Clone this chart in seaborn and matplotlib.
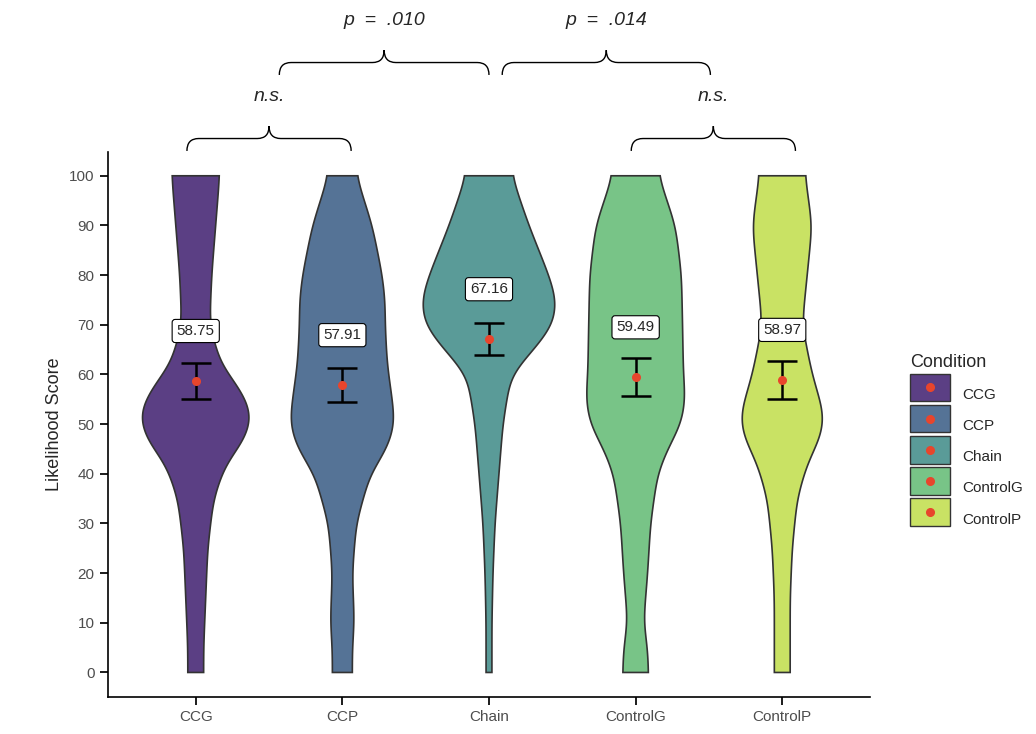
import numpy as np
import matplotlib
matplotlib.use("Agg")
import matplotlib.pyplot as plt
from matplotlib.path import Path
from matplotlib.patches import PathPatch, Rectangle
from matplotlib.lines import Line2D
import seaborn as sns

# ── Data ─────────────────────────────────────────────────────────────────────
conditions = ["CCG", "CCP", "Chain", "ControlG", "ControlP"]
colors = ["#5b3f84", "#557396", "#5a9b98", "#78c487", "#c9e264"]
means = [58.75, 57.91, 67.16, 59.49, 58.97]
ci_low = [55.1, 54.4, 64.0, 55.7, 55.1]
ci_high = [62.4, 61.4, 70.3, 63.3, 62.8]

prof_ccg_y = [0, 5, 15, 25, 35, 42, 47, 52, 57, 62, 70, 80, 90, 100]
prof_ccg_w = [0.054, 0.054, 0.068, 0.082, 0.122, 0.204, 0.34, 0.388, 0.306, 0.17, 0.095, 0.109, 0.136, 0.163]
prof_ccp_y = [0, 5, 10, 20, 30, 40, 45, 50, 55, 62, 70, 75, 80, 90, 100]
prof_ccp_w = [0.068, 0.068, 0.082, 0.068, 0.095, 0.19, 0.306, 0.36, 0.34, 0.306, 0.292, 0.292, 0.272, 0.204, 0.095]
prof_chain_y = [0, 10, 20, 30, 40, 50, 60, 65, 70, 75, 80, 90, 100]
prof_chain_w = [0.02, 0.02, 0.027, 0.041, 0.068, 0.095, 0.15, 0.306, 0.442, 0.462, 0.408, 0.272, 0.156]
prof_cg_y = [0, 5, 10, 20, 30, 40, 45, 50, 55, 60, 70, 80, 90, 100]
prof_cg_w = [0.088, 0.082, 0.054, 0.082, 0.102, 0.15, 0.218, 0.313, 0.34, 0.326, 0.32, 0.313, 0.272, 0.156]
prof_cp_y = [0, 5, 15, 25, 35, 42, 48, 52, 60, 70, 80, 90, 100]
prof_cp_w = [0.054, 0.054, 0.054, 0.068, 0.102, 0.17, 0.272, 0.286, 0.204, 0.136, 0.17, 0.204, 0.156]
profiles = [(prof_ccg_y, prof_ccg_w), (prof_ccp_y, prof_ccp_w), (prof_chain_y, prof_chain_w),
            (prof_cg_y, prof_cg_w), (prof_cp_y, prof_cp_w)]

# significance brackets: (x start, x end, height, label)
brackets = [(-0.06, 1.06, 107.5, "n.s."), (0.57, 2.0, 122.8, "p  =  .010"),
            (2.09, 3.51, 122.8, "p  =  .014"), (2.97, 4.09, 107.5, "n.s.")]


def smooth_profile(py, pw, n=400, sigma=10):
    yy = np.linspace(0, 100, n)
    ww = np.interp(yy, py, pw)
    k = np.exp(-0.5 * (np.arange(-3 * sigma, 3 * sigma + 1) / sigma) ** 2)
    k /= k.sum()
    padded = np.pad(ww, 3 * sigma, mode="edge")
    return yy, np.convolve(padded, k, mode="valid")


class DotPatchHandler:
    def __init__(self, color):
        self.color = color

    def legend_artist(self, legend, orig_handle, fontsize, handlebox):
        x0, y0 = handlebox.xdescent, handlebox.ydescent
        w, h = handlebox.width, handlebox.height
        rect = Rectangle((x0, y0 - 4), w, h + 8, fc=self.color, ec="#333333", lw=1.0,
                         transform=handlebox.get_transform())
        dot = Line2D([x0 + w / 2], [y0 + h / 2], marker="o", ls="", color="#e8452c", ms=5.5,
                     transform=handlebox.get_transform())
        handlebox.add_artist(rect)
        handlebox.add_artist(dot)
        return rect


# ── Plot ─────────────────────────────────────────────────────────────────────
sns.set_theme(style="ticks")
plt.rcParams["font.family"] = ["Liberation Sans", "DejaVu Sans"]

fig = plt.figure(figsize=(10.36, 7.34), dpi=100)
ax = fig.add_axes([0.104, 0.050, 0.736, 0.743])

for i, (py, pw) in enumerate(profiles):
    yy, ww = smooth_profile(py, pw)
    xs = np.concatenate([i - ww, (i + ww)[::-1]])
    ys = np.concatenate([yy, yy[::-1]])
    ax.fill(xs, ys, fc=colors[i], ec="#333333", lw=1.2, zorder=2)
    ax.errorbar(i, means[i], yerr=[[means[i] - ci_low[i]], [ci_high[i] - means[i]]],
                fmt="none", ecolor="black", elinewidth=1.8, capsize=11, capthick=1.8, zorder=4)
    ax.plot(i, means[i], "o", color="#e8452c", ms=5.5, zorder=5)
    ax.text(i, means[i] + 10, f"{means[i]:.2f}", ha="center", va="center", fontsize=11, zorder=6,
            bbox=dict(boxstyle="round,pad=0.3,rounding_size=0.2", fc="white", ec="black", lw=0.8))


def brace(x0, x1, y, label):
    xm = (x0 + x1) / 2
    h = 2.5
    d = 0.08
    verts = [(x0, y - h), (x0, y), (x0 + d, y), (x0 + d, y),
             (xm - d, y), (xm, y), (xm, y + h), (xm, y), (xm + d, y),
             (x1 - d, y), (x1, y), (x1, y - h)]
    codes = [Path.MOVETO, Path.CURVE3, Path.CURVE3, Path.LINETO,
             Path.LINETO, Path.CURVE3, Path.CURVE3, Path.CURVE3, Path.CURVE3,
             Path.LINETO, Path.CURVE3, Path.CURVE3]
    ax.add_patch(PathPatch(Path(verts, codes), fc="none", ec="black", lw=1.0, clip_on=False))
    ax.text(xm, y + 8.5, label, ha="center", va="center", fontsize=14, style="italic")


for b in brackets:
    brace(*b)

ax.set_xlim(-0.6, 4.6)
ax.set_ylim(-5, 104.8)
ax.set_xticks(range(len(conditions)))
ax.set_xticklabels(conditions)
ax.set_yticks(range(0, 101, 10))
ax.tick_params(colors="#4d4d4d", labelsize=11)
ax.tick_params(axis="both", color="black")
ax.set_ylabel("Likelihood Score", fontsize=13)
sns.despine(ax=ax)
for s in ["left", "bottom"]:
    ax.spines[s].set_color("black")
    ax.spines[s].set_linewidth(1.2)

handles = [Rectangle((0, 0), 1, 1) for _ in colors]
fig.legend(handles, conditions, title="Condition", loc="center left", bbox_to_anchor=(0.865, 0.40),
           frameon=False, fontsize=11, title_fontsize=13, handlelength=2.6, handleheight=1.3,
           labelspacing=0.95, alignment="left",
           handler_map={h: DotPatchHandler(c) for h, c in zip(handles, colors)})

fig.savefig("out.png", dpi=100)
